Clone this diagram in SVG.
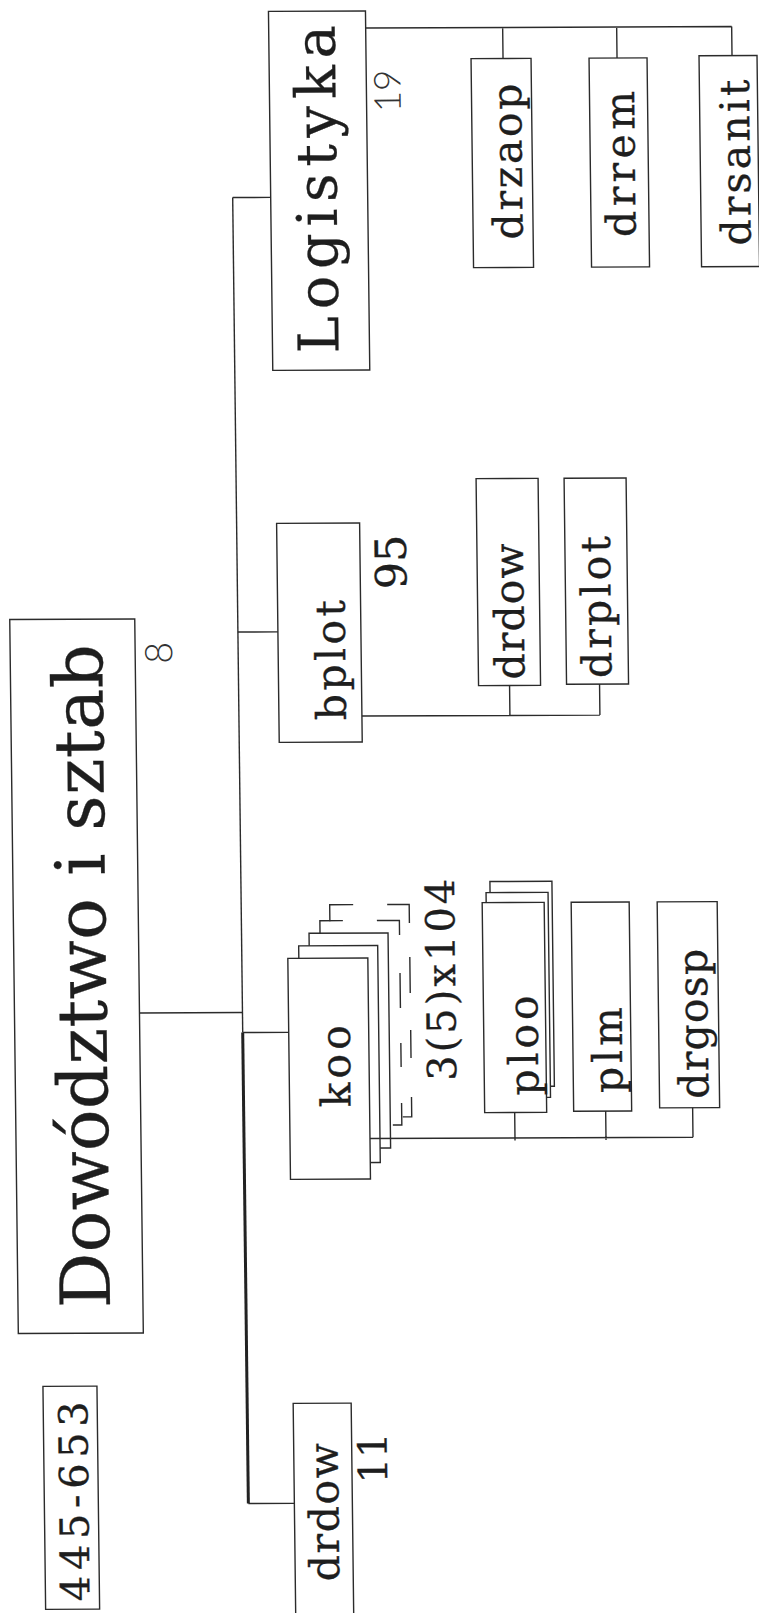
<svg xmlns="http://www.w3.org/2000/svg" width="759" height="1613" viewBox="0 0 759 1613">
<style>
.box{fill:#fff;stroke:#2b2b2b;stroke-width:1.4}
.dash{fill:none;stroke:#2b2b2b;stroke-width:1.4}
.ln{fill:none;stroke:#2b2b2b;stroke-width:1.4}
.thick{fill:none;stroke:#222;stroke-width:3}
.lbl{font-family:'DejaVu Serif','Liberation Serif',serif;fill:#1e1e1e;stroke:#1e1e1e;stroke-width:0.3;text-anchor:middle}
.num{font-family:Lato,'Open Sans','Noto Sans',sans-serif;font-weight:300;fill:#333;text-anchor:middle}
</style>
<rect x="0" y="0" width="759" height="1613" fill="#ffffff"/>
<g transform="matrix(1,-0.004,0.012,1,-9.67,1.52)">
<g id="n445">
<rect class="box" x="36" y="1385" width="54" height="223"/>
<text class="lbl" font-size="40" transform="translate(80,1500) rotate(-90)" textLength="200" lengthAdjust="spacing">445-653</text>
</g>
<g id="dowodztwo">
<rect class="box" x="12" y="618" width="125" height="714"/>
<text class="lbl" font-size="69" transform="translate(104,975) rotate(-90)" textLength="664" lengthAdjust="spacing">Dowództwo i sztab</text>
<text class="num" font-size="38" transform="translate(174,652) rotate(-90)">8</text>
</g>
<g id="logistyka">
<rect class="box" x="278" y="11" width="97" height="359"/>
<text class="lbl" font-size="56" transform="translate(344,189) rotate(-90)" textLength="328" lengthAdjust="spacing">Logistyka</text>
<text class="num" font-size="37" transform="translate(409,91) rotate(-90)">19</text>
</g>
<g id="drzaop">
<rect class="box" x="480" y="59" width="60" height="209"/>
<text class="lbl" font-size="41" transform="translate(529.5,162) rotate(-90)" textLength="156" lengthAdjust="spacing">drzaop</text>
</g>
<g id="drrem">
<rect class="box" x="598" y="59" width="58" height="209"/>
<text class="lbl" font-size="41" transform="translate(642.5,165) rotate(-90)" textLength="146" lengthAdjust="spacing">drrem</text>
</g>
<g id="drsanit">
<rect class="box" x="708" y="57" width="58" height="211"/>
<text class="lbl" font-size="41" transform="translate(757.5,164) rotate(-90)" textLength="166" lengthAdjust="spacing">drsanit</text>
</g>
<g id="bplot">
<rect class="box" x="280" y="523" width="83" height="219"/>
<text class="lbl" font-size="41" transform="translate(347,660) rotate(-90)" textLength="120" lengthAdjust="spacing">bplot</text>
<text class="lbl" font-size="43" transform="translate(409,562) rotate(-90)">95</text>
</g>
<g id="drdow-bplot">
<rect class="box" x="480" y="479" width="62" height="207"/>
<text class="lbl" font-size="41" transform="translate(526,612) rotate(-90)" textLength="136" lengthAdjust="spacing">drdow</text>
</g>
<g id="drplot">
<rect class="box" x="568" y="479" width="62" height="206"/>
<text class="lbl" font-size="41" transform="translate(613,608) rotate(-90)" textLength="142" lengthAdjust="spacing">drplot</text>
</g>
<g id="koo">
<path class="dash" d="M328.5,921 V904.5 H352 M386,904.5 H408 V923 M408,957 V993 M408,1030 V1058 M408,1097 V1117 H399"/>
<path class="dash" d="M318.5,933 V920.5 H341.5 M375.5,920.5 H398 V935 M398,973 V1008 M398,1043 V1067 M398,1103 V1125 H389"/>
<rect class="box" x="307.5" y="933" width="79" height="215"/>
<rect class="box" x="297" y="945.5" width="79" height="217"/>
<rect class="box" x="286" y="958" width="80" height="221"/>
<text class="lbl" font-size="41" transform="translate(347,1066) rotate(-90)" textLength="82" lengthAdjust="spacing">koo</text>
<text class="lbl" font-size="40" transform="translate(453,980) rotate(-90)" textLength="202" lengthAdjust="spacing">3(5)x104</text>
</g>
<g id="ploo">
<rect class="box" x="489" y="882" width="62" height="205"/>
<rect class="box" x="485" y="893" width="62" height="205"/>
<rect class="box" x="481" y="903" width="62" height="210"/>
<text class="lbl" font-size="41" transform="translate(535,1046) rotate(-90)" textLength="100" lengthAdjust="spacing">ploo</text>
</g>
<g id="plm">
<rect class="box" x="570" y="903" width="58" height="209"/>
<text class="lbl" font-size="41" transform="translate(619,1051) rotate(-90)" textLength="86" lengthAdjust="spacing">plm</text>
</g>
<g id="drgosp">
<rect class="box" x="656" y="903" width="60" height="206"/>
<text class="lbl" font-size="41" transform="translate(705,1025) rotate(-90)" textLength="150" lengthAdjust="spacing">drgosp</text>
</g>
<g id="drdow">
<rect class="box" x="286" y="1403" width="58" height="240"/>
<text class="lbl" font-size="41" transform="translate(330,1512) rotate(-90)" textLength="138" lengthAdjust="spacing">drdow</text>
<text class="lbl" font-size="40" transform="translate(379,1458) rotate(-90)">11</text>
</g>
<g id="connectors">
<path class="ln" d="M240,197 V1032"/>
<path class="thick" d="M240,1032 V1503"/>
<path class="ln" d="M240,197 H278"/>
<path class="ln" d="M137,1012 H240"/>
<path class="ln" d="M240,631.5 H280"/>
<path class="ln" d="M240,1032 H286"/>
<path class="ln" d="M240,1503 H286"/>
<path class="ln" d="M375,28 H741 M512,28 V59 M626,28 V59 M741,28 V57"/>
<path class="ln" d="M363,716 H601 M511,686 V716 M601,685 V716"/>
<path class="ln" d="M366,1138.5 H689 M511,1113 V1141 M602,1112 V1141 M689,1109 V1138.5"/>
</g>
</g>
</svg>
